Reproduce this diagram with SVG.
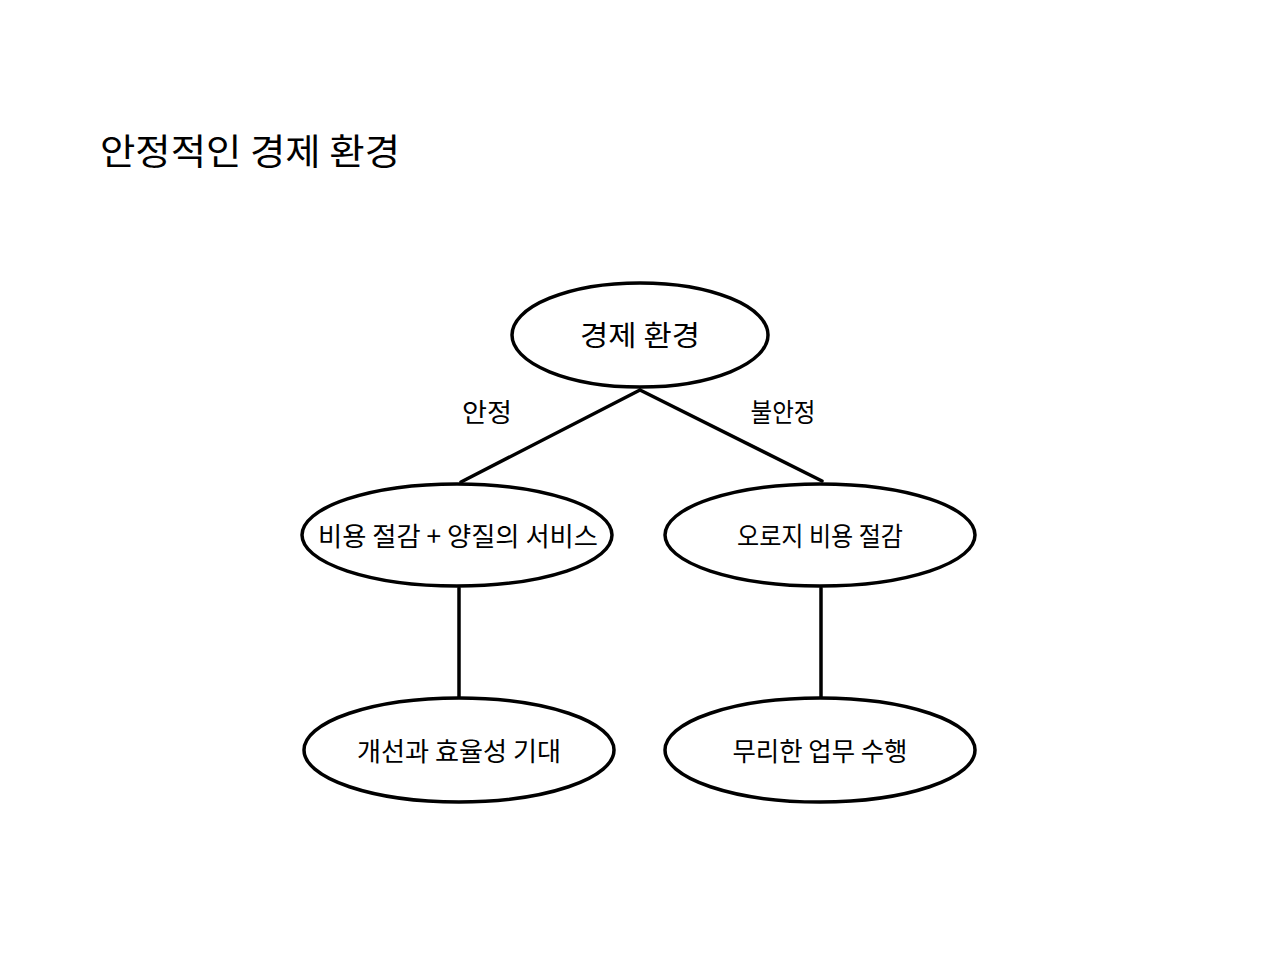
<svg xmlns="http://www.w3.org/2000/svg" width="1280" height="960" viewBox="0 0 1280 960">
<style>
.n{fill:#fff;stroke:#000;stroke-width:3.5}
.t{font-family:"Noto Sans CJK KR","Noto Sans",sans-serif;font-size:26px;fill:#000;text-anchor:middle;dominant-baseline:central}
.c{stroke:#000;stroke-width:3.5;fill:none;stroke-linecap:round}
</style>
<rect width="1280" height="960" fill="#fff"/>
<text x="100" y="149" font-family="'Noto Sans CJK KR','Noto Sans',sans-serif" font-size="36" textLength="300" lengthAdjust="spacingAndGlyphs" dominant-baseline="central" fill="#000">안정적인 경제 환경</text>
<g id="connectors">
<line class="c" x1="640" y1="390" x2="461" y2="482"/>
<line class="c" x1="640" y1="390" x2="822" y2="481"/>
<line class="c" x1="459" y1="588" x2="459" y2="697"/>
<line class="c" x1="821" y1="588" x2="821" y2="697"/>
<text class="t" x="487" y="410" textLength="50" lengthAdjust="spacingAndGlyphs">안정</text>
<text class="t" x="783" y="410" textLength="65" lengthAdjust="spacingAndGlyphs">불안정</text>
</g>
<g id="root"><ellipse class="n" cx="640" cy="335" rx="128" ry="52"/><text class="t" x="640" y="334" style="font-size:28px" textLength="120" lengthAdjust="spacingAndGlyphs">경제 환경</text></g>
<g id="stable"><ellipse class="n" cx="457" cy="535" rx="155" ry="51"/><text class="t" x="458" y="534" textLength="280" lengthAdjust="spacingAndGlyphs">비용 절감 + 양질의 서비스</text></g>
<g id="unstable"><ellipse class="n" cx="820" cy="535" rx="155" ry="51"/><text class="t" x="820" y="534" textLength="166" lengthAdjust="spacingAndGlyphs">오로지 비용 절감</text></g>
<g id="improve"><ellipse class="n" cx="459" cy="750" rx="155" ry="52"/><text class="t" x="459" y="749" textLength="204" lengthAdjust="spacingAndGlyphs">개선과 효율성 기대</text></g>
<g id="overwork"><ellipse class="n" cx="820" cy="750" rx="155" ry="52"/><text class="t" x="820" y="749" textLength="175" lengthAdjust="spacingAndGlyphs">무리한 업무 수행</text></g>
</svg>
